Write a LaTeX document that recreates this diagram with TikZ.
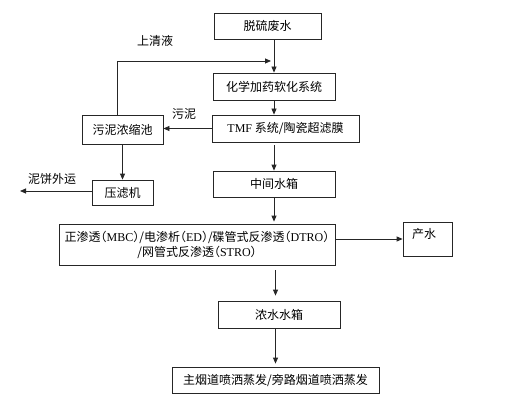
\documentclass[tikz,border=0pt]{standalone}
\usepackage{fontspec}
\setmainfont{Liberation Serif}
\newfontfamily\cjk{Noto Sans CJK SC}
\newfontfamily\cjkh[RawFeature=+halt]{Noto Sans CJK SC}
\usetikzlibrary{arrows.meta}
\newcommand\lat[1]{{\rmfamily #1}}
\begin{document}
\begin{tikzpicture}[x=1pt,y=-1pt,
  box/.style={draw=black!85, line width=0.8pt, inner sep=0pt, font=\fontsize{12}{15}\selectfont\cjk},
  arr/.style={draw=black!85, line width=0.8pt, -{Triangle[length=6pt,width=5pt]}},
  lbl/.style={font=\fontsize{12}{15}\selectfont\cjk, inner sep=0pt}]
\useasboundingbox[fill=white] (0,0) rectangle (505,414);

\node[box, minimum width=107, minimum height=26] (b1) at (267.5,26) {脱硫废水};
\node[box, minimum width=122, minimum height=27] (b2) at (274,86.5) {化学加药软化系统};
\node[box, minimum width=147, minimum height=27] (b3) at (285.5,128.5) {\lat{TMF} 系统/陶瓷超滤膜};
\node[box, minimum width=81, minimum height=29] (b4) at (122.5,129.5) {污泥浓缩池};
\node[box, minimum width=61, minimum height=25] (b5) at (122.5,192.5) {压滤机};
\node[box, minimum width=122, minimum height=26] (b6) at (274,184) {中间水箱};
\node[box, minimum width=276, minimum height=41, align=center, font=\fontsize{12}{15}\selectfont\cjkh] (b7) at (197,244.5)
  {正渗透（\lat{MBC}）/电渗析（\lat{ED}）/碟管式反渗透（\lat{DTRO}）\\/网管式反渗透（\lat{STRO}）};
\node[box, minimum width=49, minimum height=34] (b8) at (427.5,239) {};
\node[lbl] (t8) at (424,234) {产水};
\node[box, minimum width=122, minimum height=27] (b9) at (279,314.5) {浓水水箱};
\node[box, minimum width=207, minimum height=26] (b10) at (275.5,380) {主烟道喷洒蒸发/旁路烟道喷洒蒸发};

\node[lbl] (l1) at (155,41) {上清液};
\node[lbl] (l2) at (184,114) {污泥};
\node[lbl] (l3) at (52,179) {泥饼外运};

\coordinate (fb) at (271,61);
\coordinate (out) at (20,191);

\draw[arr] (b2.north |- b1.south) -- (b2.north);
\draw[arr] ([xshift=-5.5pt]b4.north) |- (fb);
\draw[arr] (b2.south) -- (b2.south |- b3.north);
\draw[arr] (b3.west) -- (b4.east |- b3.west);
\draw[arr] (b4.south) -- (b5.north);
\draw[arr] (b5.west |- out) -- (out);
\draw[arr, shorten <=3pt] (b6.north |- b3.south) -- (b6.north);
\draw[arr, shorten >=2pt] (b6.south) -- (b6.south |- b7.north);
\draw[arr] (b7.east |- b8.west) -- (b8.west);
\draw[arr, shorten <=5pt, shorten >=5pt] (b7.south -| b10.north) -- (b10.north |- b9.north);
\draw[arr, shorten >=3pt] (b10.north |- b9.south) -- (b10.north);
\end{tikzpicture}
\end{document}
